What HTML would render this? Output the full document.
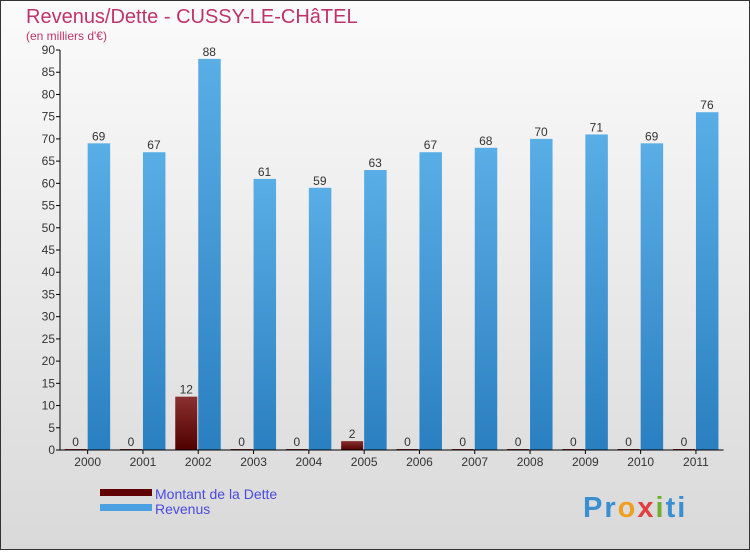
<!DOCTYPE html>
<html><head><meta charset="utf-8"><style>
body{margin:0;width:750px;height:550px;overflow:hidden;font-family:"Liberation Sans",sans-serif}
</style></head><body>
<svg width="750" height="550" xmlns="http://www.w3.org/2000/svg">
<defs>
<linearGradient id="bg" x1="0" y1="0" x2="0" y2="1"><stop offset="0" stop-color="#fbfbfb"/><stop offset="1" stop-color="#d9d9d9"/></linearGradient>
<linearGradient id="rev" x1="0" y1="0" x2="0" y2="1"><stop offset="0" stop-color="#5aaee6"/><stop offset="1" stop-color="#2a7fc0"/></linearGradient>
<linearGradient id="debt" x1="0" y1="0" x2="0" y2="1"><stop offset="0" stop-color="#8a3030"/><stop offset="1" stop-color="#500000"/></linearGradient>
</defs>
<rect x="0.5" y="0.5" width="749" height="549" fill="url(#bg)" stroke="#333"/>
<text x="26" y="23" font-size="20" fill="#c0336a">Revenus/Dette - CUSSY-LE-CHâTEL</text>
<text x="26" y="40" font-size="12" fill="#c0336a">(en milliers d'€)</text>
<g id="yaxis"></g>
<g id="bars"></g>
<g id="xaxis"></g>
<rect x="100" y="489" width="52" height="7" fill="#600000"/>
<text x="155" y="499" font-size="14" fill="#4a4ae0">Montant de la Dette</text>
<rect x="100" y="504" width="52" height="7" fill="#4aa0e0"/>
<text x="155" y="514" font-size="14" fill="#4a4ae0">Revenus</text>
<text x="583" y="517" font-size="29" font-weight="bold" letter-spacing="2" fill="#3a8fd0">Pr<tspan fill="#f0a020">o</tspan><tspan fill="#e04040">x</tspan><tspan fill="#70b030">i</tspan>ti</text>
</svg>
<script>
const years=["2000","2001","2002","2003","2004","2005","2006","2007","2008","2009","2010","2011"];
const debt=[0,0,12,0,0,2,0,0,0,0,0,0];
const revenus=[69,67,88,61,59,63,67,68,70,71,69,76];
const yTicks=[0,5,10,15,20,25,30,35,40,45,50,55,60,65,70,75,80,85,90];
const NS="http://www.w3.org/2000/svg";
const x0=60,x1=723.6,y0=450,y1=50,yMax=90;
const bw=(x1-x0)/years.length;
const Y=v=>y0-(v/yMax)*(y0-y1);
const C=i=>x0+bw*(i+0.5);
function mk(t,a,p){const e=document.createElementNS(NS,t);for(const k in a)e.setAttribute(k,a[k]);p.appendChild(e);return e;}
const ya=document.getElementById('yaxis'),bars=document.getElementById('bars'),xa=document.getElementById('xaxis');
mk('line',{x1:x0,y1:y1,x2:x0,y2:y0,stroke:'#000'},ya);
yTicks.forEach(v=>{
 const l=mk('line',{x1:x0-4,y1:Y(v),x2:x0,y2:Y(v),stroke:'#000'},ya);
 
 
 const t=mk('text',{x:x0-5,y:Y(v)+4,'font-size':12,fill:'#333','text-anchor':'end'},ya);
 t.textContent=v;
 
 
});
mk('line',{x1:x0,y1:y0,x2:x1,y2:y0,stroke:'#000'},xa);
years.forEach((yr,i)=>{
 const c=C(i);
 const tk=mk('line',{x1:c,y1:y0,x2:c,y2:y0+4,stroke:'#000'},xa);
 
 
 const t=mk('text',{x:c,y:y0+16,'font-size':12,fill:'#333','text-anchor':'middle'},xa);
 t.textContent=yr;
 
 
 const dh=Math.max(Y(0)-Y(debt[i]),1);
 const d=mk('rect',{x:c-23,y:y0-dh,width:22,height:dh,fill:'url(#debt)'},bars);
 
 
 const dl=mk('text',{x:c-12,y:y0-dh-3,'font-size':12,fill:'#333','text-anchor':'middle'},bars);
 dl.textContent=debt[i];
 
 
 const r=mk('rect',{x:c,y:Y(revenus[i]),width:22.5,height:y0-Y(revenus[i]),fill:'url(#rev)'},bars);
 
 
 const rl=mk('text',{x:c+11,y:Y(revenus[i])-3,'font-size':12,fill:'#333','text-anchor':'middle'},bars);
 rl.textContent=revenus[i];
 
 
});
</script>
</body></html>
